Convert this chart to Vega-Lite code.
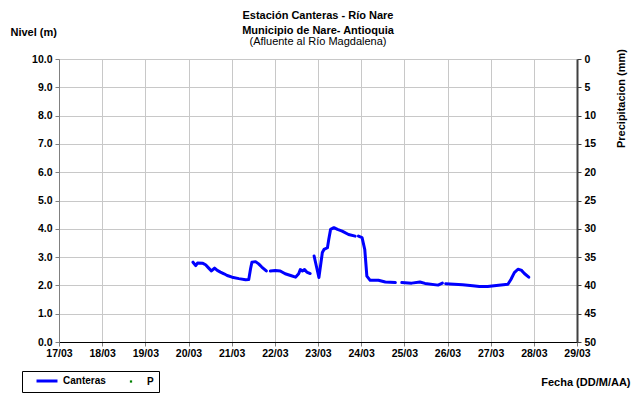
{
  "$schema": "https://vega.github.io/schema/vega-lite/v6.json",
  "width": 518,
  "height": 283,
  "autosize": {"type": "none"},
  "padding": {"left": 59, "top": 59, "right": 57, "bottom": 61},
  "background": "white",
  "title": {
    "text": ["Estación Canteras - Río Nare", "Municipio de Nare- Antioquia"],
    "subtitle": "(Afluente al Río Magdalena)",
    "font": "Liberation Sans", "fontSize": 11, "fontWeight": "bold", "color": "black",
    "subtitleFont": "Liberation Sans", "subtitleFontSize": 11, "subtitleColor": "black",
    "lineHeight": 15, "subtitleLineHeight": 14, "subtitlePadding": 0,
    "offset": -21, "anchor": "middle", "frame": "group"
  },
  "data": {"values": [
    {"fecha": "2011-03-20T02:30:00Z", "nivel": 2.82, "serie": "Canteras", "tramo": 1},
    {"fecha": "2011-03-20T04:00:00Z", "nivel": 2.70, "serie": "Canteras", "tramo": 1},
    {"fecha": "2011-03-20T05:00:00Z", "nivel": 2.79, "serie": "Canteras", "tramo": 1},
    {"fecha": "2011-03-20T08:00:00Z", "nivel": 2.78, "serie": "Canteras", "tramo": 1},
    {"fecha": "2011-03-20T09:30:00Z", "nivel": 2.73, "serie": "Canteras", "tramo": 1},
    {"fecha": "2011-03-20T11:15:00Z", "nivel": 2.61, "serie": "Canteras", "tramo": 1},
    {"fecha": "2011-03-20T12:45:00Z", "nivel": 2.51, "serie": "Canteras", "tramo": 1},
    {"fecha": "2011-03-20T14:30:00Z", "nivel": 2.61, "serie": "Canteras", "tramo": 1},
    {"fecha": "2011-03-20T16:00:00Z", "nivel": 2.53, "serie": "Canteras", "tramo": 1},
    {"fecha": "2011-03-20T17:45:00Z", "nivel": 2.47, "serie": "Canteras", "tramo": 1},
    {"fecha": "2011-03-20T19:45:00Z", "nivel": 2.41, "serie": "Canteras", "tramo": 1},
    {"fecha": "2011-03-20T21:30:00Z", "nivel": 2.35, "serie": "Canteras", "tramo": 1},
    {"fecha": "2011-03-21T00:15:00Z", "nivel": 2.29, "serie": "Canteras", "tramo": 1},
    {"fecha": "2011-03-21T04:00:00Z", "nivel": 2.24, "serie": "Canteras", "tramo": 1},
    {"fecha": "2011-03-21T07:45:00Z", "nivel": 2.20, "serie": "Canteras", "tramo": 1},
    {"fecha": "2011-03-21T09:30:00Z", "nivel": 2.21, "serie": "Canteras", "tramo": 1},
    {"fecha": "2011-03-21T10:30:00Z", "nivel": 2.59, "serie": "Canteras", "tramo": 1},
    {"fecha": "2011-03-21T11:15:00Z", "nivel": 2.82, "serie": "Canteras", "tramo": 1},
    {"fecha": "2011-03-21T13:15:00Z", "nivel": 2.84, "serie": "Canteras", "tramo": 1},
    {"fecha": "2011-03-21T15:00:00Z", "nivel": 2.76, "serie": "Canteras", "tramo": 1},
    {"fecha": "2011-03-21T16:45:00Z", "nivel": 2.65, "serie": "Canteras", "tramo": 1},
    {"fecha": "2011-03-21T19:15:00Z", "nivel": 2.51, "serie": "Canteras", "tramo": 1},
    {"fecha": "2011-03-21T21:30:00Z", "nivel": 2.51, "serie": "Canteras", "tramo": 2},
    {"fecha": "2011-03-22T00:15:00Z", "nivel": 2.53, "serie": "Canteras", "tramo": 2},
    {"fecha": "2011-03-22T03:00:00Z", "nivel": 2.51, "serie": "Canteras", "tramo": 2},
    {"fecha": "2011-03-22T05:45:00Z", "nivel": 2.41, "serie": "Canteras", "tramo": 2},
    {"fecha": "2011-03-22T08:45:00Z", "nivel": 2.35, "serie": "Canteras", "tramo": 2},
    {"fecha": "2011-03-22T11:30:00Z", "nivel": 2.29, "serie": "Canteras", "tramo": 2},
    {"fecha": "2011-03-22T13:15:00Z", "nivel": 2.41, "serie": "Canteras", "tramo": 2},
    {"fecha": "2011-03-22T14:10:00Z", "nivel": 2.56, "serie": "Canteras", "tramo": 2},
    {"fecha": "2011-03-22T15:20:00Z", "nivel": 2.51, "serie": "Canteras", "tramo": 2},
    {"fecha": "2011-03-22T16:30:00Z", "nivel": 2.56, "serie": "Canteras", "tramo": 2},
    {"fecha": "2011-03-22T17:45:00Z", "nivel": 2.47, "serie": "Canteras", "tramo": 2},
    {"fecha": "2011-03-22T19:40:00Z", "nivel": 2.42, "serie": "Canteras", "tramo": 2},
    {"fecha": "2011-03-22T21:50:00Z", "nivel": 3.04, "serie": "Canteras", "tramo": 3},
    {"fecha": "2011-03-23T00:30:00Z", "nivel": 2.28, "serie": "Canteras", "tramo": 3},
    {"fecha": "2011-03-23T02:25:00Z", "nivel": 3.16, "serie": "Canteras", "tramo": 3},
    {"fecha": "2011-03-23T03:20:00Z", "nivel": 3.27, "serie": "Canteras", "tramo": 3},
    {"fecha": "2011-03-23T05:15:00Z", "nivel": 3.33, "serie": "Canteras", "tramo": 3},
    {"fecha": "2011-03-23T06:00:00Z", "nivel": 3.63, "serie": "Canteras", "tramo": 3},
    {"fecha": "2011-03-23T07:00:00Z", "nivel": 3.98, "serie": "Canteras", "tramo": 3},
    {"fecha": "2011-03-23T08:50:00Z", "nivel": 4.04, "serie": "Canteras", "tramo": 3},
    {"fecha": "2011-03-23T10:50:00Z", "nivel": 3.98, "serie": "Canteras", "tramo": 3},
    {"fecha": "2011-03-23T13:25:00Z", "nivel": 3.92, "serie": "Canteras", "tramo": 3},
    {"fecha": "2011-03-23T17:00:00Z", "nivel": 3.80, "serie": "Canteras", "tramo": 3},
    {"fecha": "2011-03-23T20:40:00Z", "nivel": 3.74, "serie": "Canteras", "tramo": 3},
    {"fecha": "2011-03-23T22:30:00Z", "nivel": 3.74, "serie": "Canteras", "tramo": 4},
    {"fecha": "2011-03-24T00:30:00Z", "nivel": 3.69, "serie": "Canteras", "tramo": 4},
    {"fecha": "2011-03-24T02:00:00Z", "nivel": 3.27, "serie": "Canteras", "tramo": 4},
    {"fecha": "2011-03-24T03:10:00Z", "nivel": 2.33, "serie": "Canteras", "tramo": 4},
    {"fecha": "2011-03-24T05:00:00Z", "nivel": 2.18, "serie": "Canteras", "tramo": 4},
    {"fecha": "2011-03-24T09:35:00Z", "nivel": 2.18, "serie": "Canteras", "tramo": 4},
    {"fecha": "2011-03-24T13:25:00Z", "nivel": 2.12, "serie": "Canteras", "tramo": 4},
    {"fecha": "2011-03-24T19:00:00Z", "nivel": 2.10, "serie": "Canteras", "tramo": 4},
    {"fecha": "2011-03-24T22:35:00Z", "nivel": 2.10, "serie": "Canteras", "tramo": 5},
    {"fecha": "2011-03-25T04:05:00Z", "nivel": 2.08, "serie": "Canteras", "tramo": 5},
    {"fecha": "2011-03-25T08:40:00Z", "nivel": 2.12, "serie": "Canteras", "tramo": 5},
    {"fecha": "2011-03-25T11:30:00Z", "nivel": 2.07, "serie": "Canteras", "tramo": 5},
    {"fecha": "2011-03-25T18:45:00Z", "nivel": 2.01, "serie": "Canteras", "tramo": 5},
    {"fecha": "2011-03-25T21:10:00Z", "nivel": 2.08, "serie": "Canteras", "tramo": 5},
    {"fecha": "2011-03-25T23:00:00Z", "nivel": 2.06, "serie": "Canteras", "tramo": 6},
    {"fecha": "2011-03-26T08:25:00Z", "nivel": 2.02, "serie": "Canteras", "tramo": 6},
    {"fecha": "2011-03-26T14:00:00Z", "nivel": 1.99, "serie": "Canteras", "tramo": 6},
    {"fecha": "2011-03-26T17:45:00Z", "nivel": 1.96, "serie": "Canteras", "tramo": 6},
    {"fecha": "2011-03-26T22:20:00Z", "nivel": 1.96, "serie": "Canteras", "tramo": 6},
    {"fecha": "2011-03-27T03:10:00Z", "nivel": 2.00, "serie": "Canteras", "tramo": 6},
    {"fecha": "2011-03-27T09:35:00Z", "nivel": 2.04, "serie": "Canteras", "tramo": 6},
    {"fecha": "2011-03-27T11:15:00Z", "nivel": 2.21, "serie": "Canteras", "tramo": 6},
    {"fecha": "2011-03-27T13:10:00Z", "nivel": 2.45, "serie": "Canteras", "tramo": 6},
    {"fecha": "2011-03-27T15:10:00Z", "nivel": 2.57, "serie": "Canteras", "tramo": 6},
    {"fecha": "2011-03-27T17:00:00Z", "nivel": 2.54, "serie": "Canteras", "tramo": 6},
    {"fecha": "2011-03-27T18:45:00Z", "nivel": 2.42, "serie": "Canteras", "tramo": 6},
    {"fecha": "2011-03-27T21:10:00Z", "nivel": 2.29, "serie": "Canteras", "tramo": 6}
  ]},
  "encoding": {
    "x": {
      "field": "fecha", "type": "temporal",
      "scale": {"type": "utc", "domain": [{"year": 2011, "month": 3, "date": 17, "utc": true}, {"year": 2011, "month": 3, "date": 29, "utc": true}]},
      "axis": {
        "title": "Fecha (DD/M/AA)", "titleX": 571, "titleY": 40, "titleAlign": "right", "titleBaseline": "middle",
        "labelExpr": "utcFormat(datum.value, '%d/%m')",
        "tickCount": {"interval": "day", "step": 1},
        "labelFlush": false, "labelOverlap": false, "labelPadding": 2,
        "tickSize": 4, "tickColor": "#808080", "domainColor": "#000000",
        "grid": true, "gridColor": "#c8c8c8"
      }
    }
  },
  "layer": [
    {
      "mark": {"type": "line", "strokeWidth": 3, "strokeCap": "round", "strokeJoin": "round"},
      "encoding": {
        "y": {
          "field": "nivel", "type": "quantitative",
          "scale": {"domain": [0, 10]},
          "axis": {
            "title": "Nivel (m)", "titleAngle": 0, "titleX": -49, "titleY": -27, "titleAlign": "left", "titleBaseline": "middle",
            "values": [0, 1, 2, 3, 4, 5, 6, 7, 8, 9, 10], "format": ".1f",
            "grid": true, "gridColor": "#c8c8c8", "domainColor": "#808080", "tickColor": "#808080", "tickSize": 4, "labelPadding": 3
          }
        },
        "color": {
          "field": "serie", "type": "nominal",
          "scale": {"domain": ["Canteras", "P"], "range": ["#0000ff", "#008000"]},
          "legend": {
            "orient": "none", "legendX": -37, "legendY": 312, "direction": "horizontal", "title": null,
            "strokeColor": "black", "padding": 5, "columnPadding": 5,
            "labelFont": "Liberation Sans", "labelFontSize": 10, "labelFontWeight": "bold", "labelColor": "black",
            "labelOffset": 11, "symbolOffset": 15,
            "symbolSize": 440,
            "labelExpr": "datum.value === 'P' ? 'P\u00a0\u00a0\u00a0\u00a0\u00a0\u00a0\u00a0\u00a0\u00a0\u00a0\u00a0\u00a0\u00a0\u00a0\u00a0\u00a0\u00a0\u00a0\u00a0\u00a0\u00a0\u00a0\u00a0\u00a0' : datum.label",
            "encode": {
              "symbols": {
                "update": {
                  "shape": {"signal": "datum.value === 'P' ? 'square' : 'stroke'"},
                  "size": {"signal": "datum.value === 'P' ? 5 : 440"},
                  "stroke": {"signal": "datum.value === 'P' ? 'transparent' : '#0000ff'"},
                  "fill": {"signal": "datum.value === 'P' ? '#008000' : 'transparent'"},
                  "strokeWidth": {"signal": "datum.value === 'P' ? 0 : 3"},
                  "opacity": {"value": 1}
                }
              }
            }
          }
        },
        "detail": {"field": "tramo", "type": "nominal"}
      }
    },
    {
      "mark": {"type": "point", "filled": true, "size": 6},
      "encoding": {
        "y": {
          "field": "precip", "type": "quantitative",
          "scale": {"domain": [0, 50], "reverse": true},
          "axis": {
            "orient": "right", "title": "Precipitacion (mm)", "titleAngle": 270, "titleX": 44, "titleY": 39,
            "titleAlign": "center", "titleBaseline": "middle",
            "values": [0, 5, 10, 15, 20, 25, 30, 35, 40, 45, 50], "format": "d",
            "grid": false, "domainColor": "#404040", "domainWidth": 2, "tickColor": "#404040", "tickSize": 4, "labelPadding": 3
          }
        },
        "color": {"datum": "P"}
      }
    }
  ],
  "resolve": {"scale": {"y": "independent"}},
  "config": {
    "view": {"stroke": "#a0a0a0"},
    "axis": {
      "labelFont": "Liberation Sans", "labelFontSize": 10.5, "labelFontWeight": "bold", "labelColor": "black",
      "titleFont": "Liberation Sans", "titleFontSize": 11, "titleFontWeight": "bold", "titleColor": "black"
    }
  }
}
